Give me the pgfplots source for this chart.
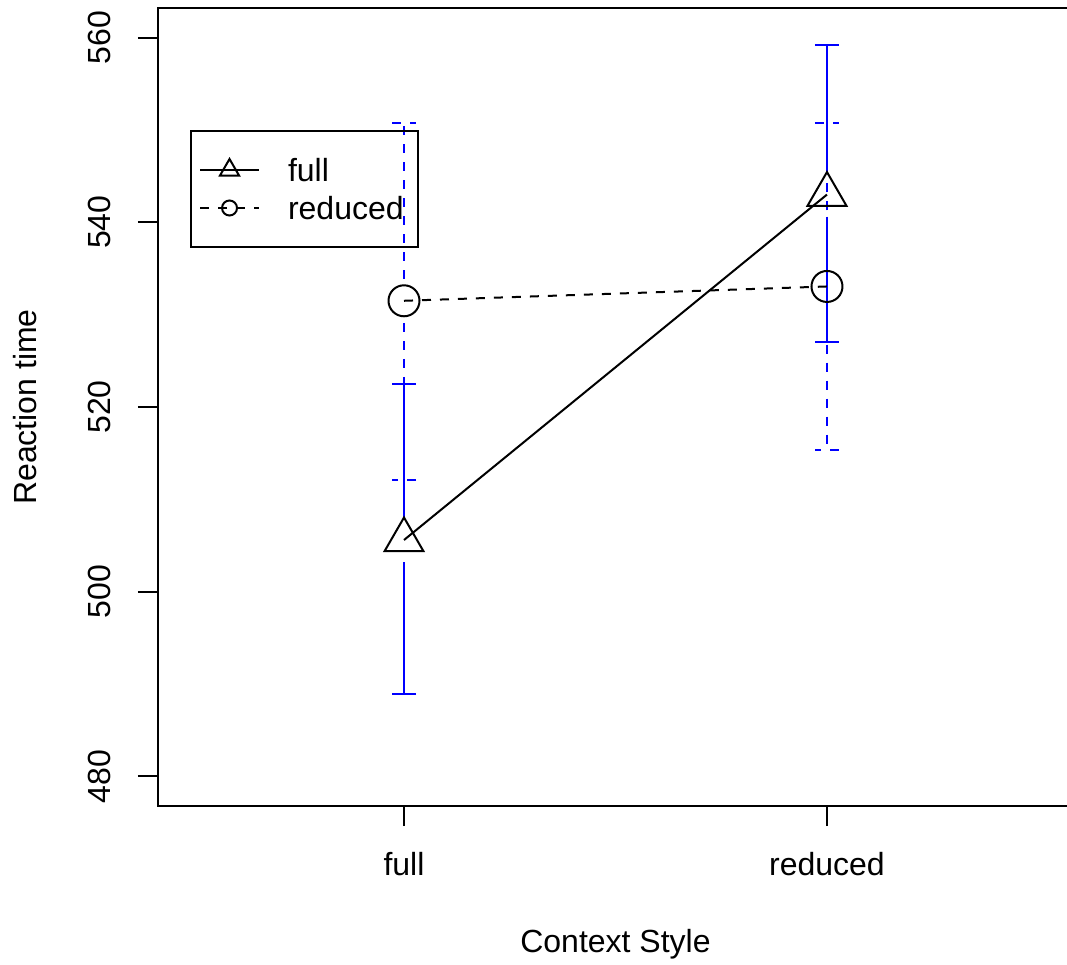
\documentclass[border=0pt]{standalone}
\usepackage{pgfplots}
\pgfplotsset{compat=1.18}
\usepackage{fontspec}
\setmainfont{Liberation Sans}
% error bar segments (bars have a gap around their own point)
% x  start  length
\pgfplotstableread{
x y e
1 508.0 14.5
2 545.4 13.75
}\fullUp
\pgfplotstableread{
x y e
1 503.2 14.3
2 540.6 13.6
}\fullDown
\pgfplotstableread{
x y e
1 533.9 16.8
2 535.45 15.35
}\redUp
\pgfplotstableread{
x y e
1 529.1 17.0
2 530.65 15.3
}\redDown
\begin{document}
\begin{tikzpicture}
\path[use as bounding box, clip] (-79pt,-79.5pt) rectangle (454.5pt,403pt);
\begin{axis}[
  at={(0pt,0pt)}, anchor=south west,
  scale only axis, width=457.5pt, height=399pt,
  xmin=0.4184, xmax=2.5816, ymin=476.8, ymax=563.2,
  xtick={1,2}, xticklabels={full,reduced},
  ytick={480,500,520,540,560},
  xtick pos=bottom, ytick pos=left,
  tick align=outside, major tick length=10pt,
  tick style={line width=1pt, black},
  axis line style={line width=1pt},
  font=\fontsize{16}{19}\selectfont,
  /pgf/number format/assume math mode=true,
  yticklabel style={rotate=90, anchor=south, inner sep=0pt},
  xticklabel style={anchor=base, inner sep=0pt},
  yticklabel shift=13.5pt, xticklabel shift=24.5pt,
  xlabel={Context Style}, ylabel={Reaction time},
  xlabel style={at={([yshift=-73pt]axis description cs:0.5,0)}, anchor=base, inner sep=0pt},
  ylabel style={at={([xshift=-60.5pt]axis description cs:0,0.5)}, anchor=base, inner sep=0pt},
  legend image code/.code={\draw[mark repeat=2,mark phase=2,#1] plot coordinates {(0pt,0pt) (14.75pt,0pt) (29.5pt,0pt)};},
  legend cell align=left,
  legend style={at={(axis description cs:0.0350,0.8471)}, anchor=north west,
    draw=black, line width=1pt, fill=none, inner xsep=4pt, inner ysep=11pt,
    row sep=2pt, column sep=14pt,
    nodes={inner sep=0pt, text height=14pt, text depth=3pt}},
]
% full series error bars (solid blue)
\addplot[draw=none, mark=none, forget plot,
  error bars/.cd, y dir=plus, y explicit, error mark=-,
  error bar style={draw=blue, line width=1pt, solid},
  error mark options={draw=blue, line width=1pt, mark size=6pt, rotate=90, solid}]
  table[x=x, y=y, y error=e] {\fullUp};
\addplot[draw=none, mark=none, forget plot,
  error bars/.cd, y dir=minus, y explicit, error mark=-,
  error bar style={draw=blue, line width=1pt, solid},
  error mark options={draw=blue, line width=1pt, mark size=6pt, rotate=90, solid}]
  table[x=x, y=y, y error=e] {\fullDown};
% reduced series error bars (dashed blue)
\addplot[draw=none, mark=none, forget plot,
  error bars/.cd, y dir=plus, y explicit, error mark=-,
  error bar style={draw=blue, line width=1pt, dash pattern=on 4.5pt off 4.5pt},
  error mark options={draw=blue, line width=1pt, mark size=6pt, rotate=90, dash pattern=on 4.5pt off 4.5pt}]
  table[x=x, y=y, y error=e] {\redUp};
\addplot[draw=none, mark=none, forget plot,
  error bars/.cd, y dir=minus, y explicit, error mark=-,
  error bar style={draw=blue, line width=1pt, dash pattern=on 4.5pt off 4.5pt},
  error mark options={draw=blue, line width=1pt, mark size=6pt, rotate=90, dash pattern=on 4.5pt off 4.5pt}]
  table[x=x, y=y, y error=e] {\redDown};
% means
\addplot[black, line width=1pt, mark=triangle, mark size=11.25pt, mark options={solid}, forget plot]
  coordinates {(1,505.6) (2,543.0)};
\addplot[black, line width=1pt, dash pattern=on 4.5pt off 4.5pt, mark=o, mark size=7.75pt, mark options={solid}, forget plot]
  coordinates {(1,531.5) (2,533.05)};
% legend
\addlegendimage{black, line width=1pt, mark=triangle, mark size=5.5pt, mark options={solid}}
\addlegendentry{full}
\addlegendimage{black, line width=1pt, dash pattern=on 4.5pt off 4.5pt, mark=o, mark size=3.75pt, mark options={solid}}
\addlegendentry{reduced\hspace*{3pt}}
\end{axis}
\end{tikzpicture}
\end{document}
